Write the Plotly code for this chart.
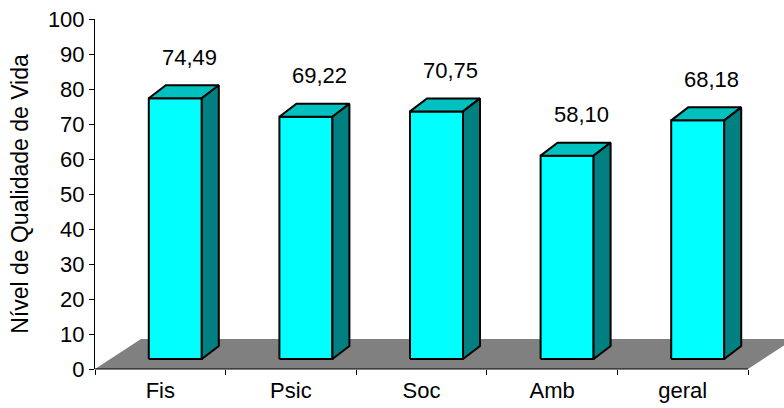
import plotly.graph_objects as go

# ---- data ----
categories = ["Fis", "Psic", "Soc", "Amb", "geral"]
values = [74.49, 69.22, 70.75, 58.10, 68.18]
y_ticks = list(range(0, 101, 10))
y_title = "Nível de Qualidade de Vida"

# ---- page geometry (pixels) ----
W, H = 784, 408
ML, MR, MT, MB = 95, 0, 19, 39
SLOT_PX = 130.6                      # width of one category slot
UNIT_Y_PX = (H - MT - MB) / 100.0    # pixels per value unit

def ux(p):
    return p / SLOT_PX

def uy(p):
    return p / UNIT_Y_PX

x_lo = -0.5
x_hi = x_lo + (W - ML - MR) / SLOT_PX
n = len(categories)

FONT = "Liberation Sans, Arial, sans-serif"
FS = 22
FS_TITLE = 23

# 3-D look: floor depth and bar depth
FLOOR_DX, FLOOR_DY = ux(46), uy(30)
BAR_SHIFT, BAR_HALF = ux(15), ux(26.5)
BAR_LIFT = uy(10)
BAR_DX, BAR_DY = ux(17), uy(13)

FRONT = "#00FFFF"
TOP = "#00C0C0"
SIDE = "#008080"
FLOOR = "#808080"

fig = go.Figure()


def poly(xs, ys, fill, line_w=2.0, line_c="black"):
    fig.add_trace(go.Scatter(
        x=xs + [xs[0]], y=ys + [ys[0]], mode="lines", fill="toself",
        fillcolor=fill, line=dict(color=line_c, width=line_w),
        hoverinfo="skip", showlegend=False, xaxis="x", yaxis="y"))


# floor
poly([x_lo, n - 0.5, n - 0.5 + FLOOR_DX, x_lo + FLOOR_DX],
     [0, 0, FLOOR_DY, FLOOR_DY], FLOOR, line_w=0, line_c=FLOOR)

# bars
for i, v in enumerate(values):
    x0 = i + BAR_SHIFT - BAR_HALF
    x1 = i + BAR_SHIFT + BAR_HALF
    yb = BAR_LIFT
    yt = BAR_LIFT + v
    poly([x0, x1, x1, x0], [yb, yb, yt, yt], FRONT)
    poly([x0, x1, x1 + BAR_DX, x0 + BAR_DX], [yt, yt, yt + BAR_DY, yt + BAR_DY], TOP)
    poly([x1, x1 + BAR_DX, x1 + BAR_DX, x1], [yb, yb + BAR_DY, yt + BAR_DY, yt], SIDE)

# value labels above each bar
for i, v in enumerate(values):
    fig.add_annotation(
        x=i + ux(29), y=v + 14.5, xref="x", yref="y",
        text=f"{v:.2f}".replace(".", ","), showarrow=False,
        font=dict(family=FONT, size=FS, color="black"),
        xanchor="center", yanchor="middle")

# invisible trace so the label axis is created
fig.add_trace(go.Scatter(x=[0], y=[0], xaxis="x2", yaxis="y", mode="markers",
                         marker=dict(opacity=0), hoverinfo="skip", showlegend=False))

# category axis line
fig.add_shape(type="line", xref="x", yref="paper", x0=x_lo, x1=n - 0.5, y0=0, y1=0,
              line=dict(color="black", width=1))

fig.update_layout(
    width=W, height=H,
    margin=dict(l=ML, r=MR, t=MT, b=MB),
    paper_bgcolor="white", plot_bgcolor="white",
    font=dict(family=FONT, size=FS, color="black"),
    xaxis=dict(
        range=[x_lo, x_hi], showgrid=False, zeroline=False, showline=False,
        tickvals=[k - 0.5 for k in range(n + 1)], ticktext=[""] * (n + 1),
        ticks="outside", ticklen=5, tickcolor="black", tickwidth=1,
        fixedrange=True),
    xaxis2=dict(
        range=[x_lo, x_hi], overlaying="x", anchor="y", side="bottom",
        showgrid=False, zeroline=False, showline=False,
        tickvals=list(range(n)), ticktext=categories, ticks="",
        ticklabelstandoff=6, tickfont=dict(family=FONT, size=FS),
        fixedrange=True),
    yaxis=dict(
        range=[0, 100], tickvals=y_ticks, showgrid=False, zeroline=False,
        showline=True, linecolor="black", linewidth=1,
        ticks="outside", ticklen=5, tickcolor="black",
        tickfont=dict(family=FONT, size=FS),
        title=dict(text=y_title, font=dict(family=FONT, size=FS_TITLE), standoff=12),
        fixedrange=True),
)

fig.write_html("out.html")
